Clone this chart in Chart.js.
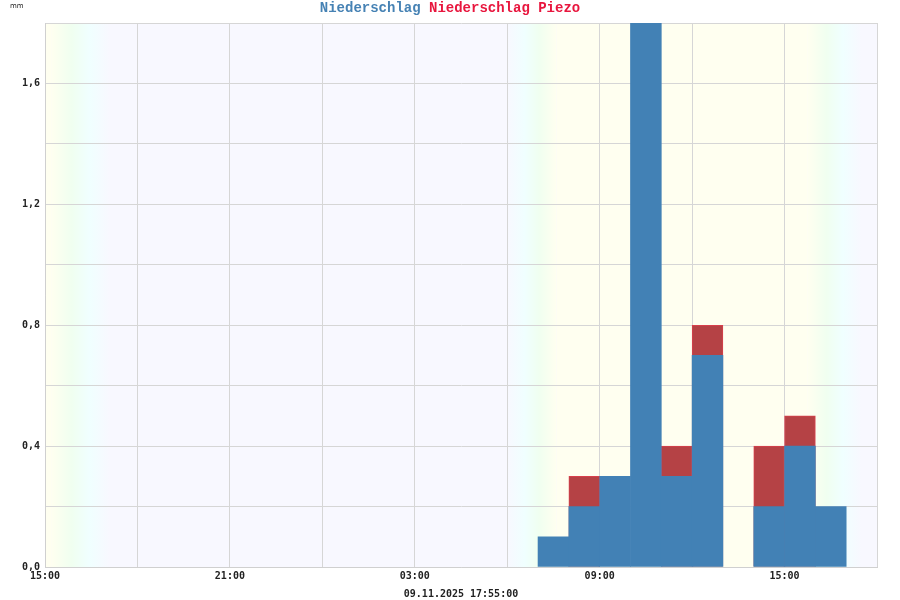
<!DOCTYPE html>
<html>
<head>
<meta charset="utf-8">
<script src="https://cdn.jsdelivr.net/npm/chart.js@4/dist/chart.umd.min.js"></script>
<style>
  body { margin: 0; background: #fff; }
  #wrap { width: 900px; height: 600px; }
</style>
</head>
<body>
<div id="wrap"><canvas id="Graph" width="900" height="600"></canvas></div>
<script>
// time axis: hours since 09.11. 15:00
startHour = 15;
spanHours = 27;

// hourly sums on 10.11. (bar = hour starting at given time)
barHours = ["07:00", "08:00", "09:00", "10:00", "11:00", "12:00", "14:00", "15:00", "16:00"];
rain = [0.1, 0.2, 0.3, 1.9, 0.3, 0.7, 0.2, 0.4, 0.2];
piezo = [null, 0.3, null, null, 0.4, 0.8, 0.4, 0.5, null];

yTicks = ["0,0", "0,4", "0,8", "1,2", "1,6"];
stamp = "09.11.2025 17:55:00";
unit = "mm";

// dusk / dawn in hours since start: [begin, end, toNight]
twilight = [[0.2, 2.1, true], [15.0, 16.6, false], [24.75, 26.5, true]];

function toX(t) {
    var h = parseInt(t.split(":")[0]);
    return (24 - startHour) + h + 0.5;
}

rainPts = [];
piezoPts = [];
for (var i = 0; i < barHours.length; i++) {
    rainPts.push({x: toX(barHours[i]), y: rain[i]});
    if (piezo[i] !== null) piezoPts.push({x: toX(barHours[i]), y: piezo[i]});
}

var dayNight = {
    id: "dayNight",
    beforeDraw: function(chart) {
        var ctx = chart.ctx, a = chart.chartArea, xs = chart.scales.x;
        ctx.save();
        ctx.fillStyle = "#f8f8ff";
        ctx.fillRect(a.left, a.top, a.right - a.left, a.bottom - a.top);
        // day spans between dawn end and dusk begin
        var dayStart = 0;
        for (var i = 0; i < twilight.length; i++) {
            var tw = twilight[i];
            var x0 = xs.getPixelForValue(tw[0]), x1 = xs.getPixelForValue(tw[1]);
            if (tw[2]) {
                var d0 = xs.getPixelForValue(dayStart);
                ctx.fillStyle = "#fffff0";
                ctx.fillRect(d0, a.top, x0 - d0, a.bottom - a.top);
            } else {
                dayStart = tw[1];
            }
            var g = ctx.createLinearGradient(x0, 0, x1, 0);
            var c = tw[2] ? ["#fffff0", "#f0fff0", "#f0ffff", "#f8f8ff"] : ["#f8f8ff", "#f0ffff", "#f0fff0", "#fffff0"];
            g.addColorStop(0, c[0]);
            g.addColorStop(0.35, c[1]);
            g.addColorStop(0.65, c[2]);
            g.addColorStop(1, c[3]);
            ctx.fillStyle = g;
            ctx.fillRect(x0, a.top, x1 - x0, a.bottom - a.top);
        }
        ctx.restore();
    },
    afterDraw: function(chart) {
        var ctx = chart.ctx;
        ctx.save();
        ctx.font = "bold 14px 'Liberation Mono'";
        ctx.textBaseline = "middle";
        var t1 = "Niederschlag", t2 = " Niederschlag Piezo";
        var w1 = ctx.measureText(t1).width, w2 = ctx.measureText(t2).width;
        var x = 450 - (w1 + w2) / 2;
        ctx.fillStyle = "#4682b4";
        ctx.fillText(t1, x, 8);
        ctx.fillStyle = "#e8163e";
        ctx.fillText(t2, x + w1, 8);
        ctx.font = "7px 'DejaVu Sans'";
        ctx.fillStyle = "#222";
        ctx.fillText(unit, 10, 6);
        ctx.restore();
    }
};

var chart = new Chart("Graph", {
    type: "bar",
    data: {
      datasets: [{
        label: "Niederschlag",
        data: rainPts,
        backgroundColor: "#4281b5",
        borderColor: "#5b93c4",
        borderWidth: 0,
        grouped: false,
        barPercentage: 1,
        categoryPercentage: 1
      }, {
        label: "Niederschlag Piezo",
        data: piezoPts,
        backgroundColor: "#b54245",
        borderColor: "#d8404c",
        borderWidth: 1,
        grouped: false,
        barPercentage: 1,
        categoryPercentage: 1
      }]
    },
    options: {
        responsive: false,
        animation: false,
        layout: {padding: {top: 23, right: 23, left: 0, bottom: 0}},
        plugins: {legend: {display: false}, tooltip: {enabled: false}},
        scales: {
          x: {
            type: "linear",
            min: 0,
            max: spanHours,
            offset: false,
            afterFit: function(s) { s.height = 33; },
            grid: {color: "#d6d6d6", drawTicks: false, offset: false},
            border: {color: "#d0d0d0"},
            ticks: {
              stepSize: 3,
              padding: 3,
              maxRotation: 0,
              autoSkip: false,
              color: "#222",
              font: {family: "DejaVu Sans Mono", size: 10, weight: "bold"},
              callback: function(v) {
                  if (v % 6 !== 0) return "";
                  var h = (startHour + v) % 24;
                  return (h < 10 ? "0" : "") + h + ":00";
              }
            },
            title: {
              display: true,
              text: stamp,
              color: "#222",
              padding: {top: 6, bottom: 0},
              font: {family: "DejaVu Sans Mono", size: 10, weight: "bold"}
            }
          },
          y: {
            min: 0,
            max: 1.8,
            afterFit: function(s) { s.width = 45; },
            grid: {color: "#d6d6d6", drawTicks: false},
            border: {color: "#d0d0d0"},
            ticks: {
              stepSize: 0.2,
              padding: 5,
              color: "#222",
              font: {family: "DejaVu Sans Mono", size: 10, weight: "bold"},
              callback: function(v) {
                  var k = Math.round(v * 10);
                  return k % 4 === 0 ? yTicks[k / 4] : "";
              }
            }
          }
        }
    },
    plugins: [dayNight]
});
</script>
</body>
</html>
